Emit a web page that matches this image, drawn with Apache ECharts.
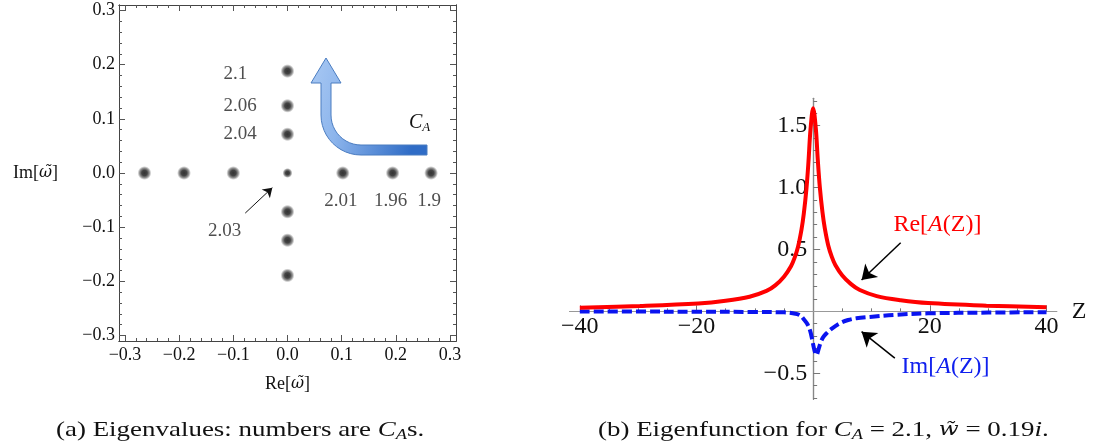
<!DOCTYPE html>
<html>
<head>
<meta charset="utf-8">
<script src="https://cdn.jsdelivr.net/npm/echarts@6/dist/echarts.min.js"></script>
<style>
html, body { margin: 0; padding: 0; background: #fff; }
#main { width: 1096px; height: 448px; }
</style>
</head>
<body>
<div id="main"></div>
<script>
// (a) eigenvalues in the complex plane, and the C_A of each one
var eigRe = [-0.264, -0.191, -0.100, 0, 0.102, 0.194, 0.265, 0, 0, 0, 0, 0, 0];
var eigIm = [0, 0, 0, 0, 0, 0, 0, 0.188, 0.124, 0.0715, -0.0715, -0.124, -0.189];
var eigCA = ['', '', '', '2.03', '2.01', '1.96', '1.9', '2.1', '2.06', '2.04', '', '', ''];
var eigTicks = [-0.3, -0.2, -0.1, 0, 0.1, 0.2, 0.3];

// (b) eigenfunction A(Z)
var zRe = [-40, -29.7, -19.7, -15, -10.9, -8, -6.5, -5, -3.8, -3.2, -2.6, -2, -1.6, -1.15, -0.8, -0.45, 0, 0.45, 0.8, 1.15, 1.6, 2, 2.6, 3.2, 3.8, 5, 6.5, 8, 10.9, 15, 19.7, 29.7, 40];
var aRe = [0.03, 0.043, 0.063, 0.085, 0.118, 0.165, 0.21, 0.28, 0.365, 0.43, 0.52, 0.66, 0.79, 0.99, 1.21, 1.47, 1.64, 1.48, 1.22, 1.0, 0.8, 0.67, 0.53, 0.44, 0.375, 0.29, 0.22, 0.172, 0.123, 0.09, 0.067, 0.046, 0.033];
var zIm = [-40, -30, -20, -10, -5, -3.5, -2.3, -1.5, -0.9, -0.5, -0.2, 0.1, 0.35, 0.58, 0.9, 1.3, 1.7, 2.3, 3.2, 4.6, 6, 7.4, 9.7, 14, 19.7, 30, 40];
var aIm = [-0.002, -0.002, -0.003, -0.005, -0.008, -0.015, -0.03, -0.07, -0.11, -0.16, -0.22, -0.29, -0.335, -0.352, -0.31, -0.25, -0.21, -0.177, -0.14, -0.096, -0.07, -0.056, -0.045, -0.028, -0.016, -0.01, -0.007];
var zTicks = [-40, -20, 20, 40];
var aTicks = [-0.5, 0.5, 1.0, 1.5];

var serif = 'Liberation Serif';
var fmt = function (v, d) { return v.toFixed(d).replace('-', '\u2212'); };

function steps(a, b, step, skip) {
  var out = [];
  for (var k = Math.round(a / step); k <= Math.round(b / step); k++) {
    var v = +(k * step).toFixed(4);
    if (!skip || Math.abs(v / skip - Math.round(v / skip)) > 1e-6) out.push(v);
  }
  return out;
}

var myChart = echarts.init(document.getElementById('main'));

function axis(extra) {
  var base = {
    type: 'value',
    splitLine: { show: false },
    axisLine: { show: true, onZero: false, lineStyle: { color: '#444', width: 1 } },
    axisTick: { show: true, inside: true, length: 6, lineStyle: { color: '#555' } },
    axisLabel: { show: false }
  };
  for (var k in extra) {
    if (typeof extra[k] === 'object' && base[k] && !Array.isArray(extra[k])) {
      base[k] = Object.assign({}, base[k], extra[k]);
    } else {
      base[k] = extra[k];
    }
  }
  return base;
}

var tickFont = { fontFamily: serif, fontSize: 18, color: '#111' };
var bigFont = { fontFamily: serif, fontSize: 24, color: '#111' };
var omega = { fontFamily: 'DejaVu Serif', fontSize: 16, fontStyle: 'italic', color: '#111' };

var eigMinor = steps(-0.3, 0.3, 0.02, 0.1);
var zMinor = steps(-40, 40, 5, 20).filter(function (v) { return v !== 0; });
var aMinor = steps(-0.7, 1.7, 0.1, 0.5);

// right panel: axes cross at zero, so shift them from the grid edges
var g1 = { left: 569.6, top: 98.3, width: 487.1, height: 301 };
var zMin = -41.75, zMax = 41.75, aMin = -0.71, aMax = 1.72;
var xOff = -g1.height * (0 - aMin) / (aMax - aMin);
var yOff = -g1.width * (0 - zMin) / (zMax - zMin);

function caLabel(i) {
  var l = { show: true, formatter: eigCA[i], fontFamily: serif, fontSize: 19, color: '#222' };
  if (eigIm[i] > 0) {
    l.position = [-57, eigIm[i] > 0.15 ? 10 : 7];
    l.align = 'left';
    l.verticalAlign = 'middle';
  } else if (eigRe[i] > 0) {
    l.position = 'inside';
    l.offset = [-2, 28];
  } else {
    l.position = 'inside';
    l.offset = [-63, 58];
  }
  return l;
}

var eigData = eigRe.map(function (re, i) {
  var item = { value: [re, eigIm[i]] };
  if (re === 0 && eigIm[i] === 0) item.symbolSize = 10;
  if (eigCA[i]) item.label = caLabel(i);
  return item;
});

var dot = {
  type: 'radial', x: 0.5, y: 0.5, r: 0.5,
  colorStops: [
    { offset: 0, color: '#000' },
    { offset: 0.4, color: '#151515' },
    { offset: 0.72, color: 'rgba(40,40,40,0.6)' },
    { offset: 1, color: 'rgba(90,90,90,0)' }
  ]
};

var arrowFill = {
  type: 'linear', x: 0, y: 0, x2: 1, y2: 0.3,
  colorStops: [
    { offset: 0, color: '#a9c9f3' },
    { offset: 0.35, color: '#8db5ec' },
    { offset: 1, color: '#2f6cc6' }
  ]
};

// outline of the bent C_A arrow (pixels)
function bentArrow() {
  var pts = [[326, 58], [341, 83], [331, 83], [331, 115]];
  var n = 12, k, t;
  for (k = 1; k <= n; k++) {
    t = Math.PI - (Math.PI / 2) * k / n;
    pts.push([361 + 30 * Math.cos(t), 115 + 30 * Math.sin(t)]);
  }
  pts.push([427, 145], [427, 155], [361, 155]);
  for (k = 1; k <= n; k++) {
    t = Math.PI / 2 + (Math.PI / 2) * k / n;
    pts.push([361 + 40 * Math.cos(t), 115 + 40 * Math.sin(t)]);
  }
  pts.push([321, 83], [311, 83]);
  return pts;
}

var capRich = {
  i: { fontFamily: serif, fontSize: 22, fontStyle: 'italic', fill: '#111' },
  w: { fontFamily: 'DejaVu Serif', fontSize: 19, fontStyle: 'italic', fill: '#111' },
  s: { fontFamily: serif, fontSize: 15, fontStyle: 'italic', fill: '#111', padding: [10, 0, 0, 0] }
};

var option = {
  animation: false,
  grid: [
    { left: 119, top: 5, width: 337, height: 336, containLabel: false },
    { left: g1.left, top: g1.top, width: g1.width, height: g1.height, containLabel: false }
  ],
  xAxis: [
    axis({ gridIndex: 0, position: 'bottom', min: -0.311, max: 0.311,
      axisTick: { customValues: eigTicks },
      axisLabel: Object.assign({ show: true, customValues: eigTicks, margin: 5,
        formatter: function (v) { return fmt(v, 1); } }, tickFont),
      name: 'Re[{w|\u03C9\u0303}]', nameLocation: 'middle', nameGap: 34,
      nameTextStyle: Object.assign({ rich: { w: omega } }, tickFont) }),
    axis({ gridIndex: 0, position: 'top', min: -0.311, max: 0.311, axisTick: { customValues: eigTicks } }),
    axis({ gridIndex: 0, position: 'bottom', min: -0.311, max: 0.311, axisTick: { customValues: eigMinor, length: 3 } }),
    axis({ gridIndex: 0, position: 'top', min: -0.311, max: 0.311, axisTick: { customValues: eigMinor, length: 3 } }),
    axis({ gridIndex: 1, position: 'bottom', offset: xOff, min: zMin, max: zMax,
      axisLine: { lineStyle: { color: '#999', width: 1.2 } },
      axisTick: { customValues: zTicks, length: 6, lineStyle: { color: '#777' } },
      axisLabel: Object.assign({ show: true, customValues: zTicks, margin: 3,
        formatter: function (v) { return fmt(v, 0); } }, bigFont),
      name: 'Z', nameLocation: 'end', nameGap: 15,
      nameTextStyle: Object.assign({ verticalAlign: 'middle' }, bigFont) }),
    axis({ gridIndex: 1, position: 'bottom', offset: xOff, min: zMin, max: zMax,
      axisLine: { lineStyle: { color: '#999', width: 1.2 } },
      axisTick: { customValues: zMinor, length: 3, lineStyle: { color: '#777' } } })
  ],
  yAxis: [
    axis({ gridIndex: 0, position: 'left', min: -0.31, max: 0.31,
      axisTick: { customValues: eigTicks },
      axisLabel: Object.assign({ show: true, customValues: eigTicks, margin: 4,
        formatter: function (v) { return fmt(v, 1); } }, tickFont),
      name: 'Im[{w|\u03C9\u0303}]', nameLocation: 'middle', nameRotate: 0, nameGap: 61,
      nameTextStyle: Object.assign({ rich: { w: omega } }, tickFont) }),
    axis({ gridIndex: 0, position: 'right', min: -0.31, max: 0.31, axisTick: { customValues: eigTicks } }),
    axis({ gridIndex: 0, position: 'left', min: -0.31, max: 0.31, axisTick: { customValues: eigMinor, length: 3 } }),
    axis({ gridIndex: 0, position: 'right', min: -0.31, max: 0.31, axisTick: { customValues: eigMinor, length: 3 } }),
    axis({ gridIndex: 1, position: 'left', offset: yOff, min: aMin, max: aMax,
      axisLine: { lineStyle: { color: '#888', width: 1.2 } },
      axisTick: { customValues: aTicks, length: 7, lineStyle: { color: '#777' } },
      axisLabel: Object.assign({ show: true, customValues: aTicks, margin: 6,
        formatter: function (v) { return fmt(v, 1); } }, bigFont) }),
    axis({ gridIndex: 1, position: 'left', offset: yOff, min: aMin, max: aMax,
      axisLine: { lineStyle: { color: '#888', width: 1.2 } },
      axisTick: { customValues: aMinor, length: 4, lineStyle: { color: '#777' } } })
  ],
  series: [
    {
      name: 'Eigenvalues',
      type: 'scatter',
      xAxisIndex: 0,
      yAxisIndex: 0,
      symbolSize: 14,
      itemStyle: { color: dot },
      data: eigData,
      markLine: {
        silent: true,
        symbol: ['none', 'arrow'],
        symbolSize: 9,
        label: { show: false },
        lineStyle: { color: '#111', width: 1, type: 'solid' },
        data: [[{ coord: [-0.078, -0.074] }, { coord: [-0.028, -0.027] }]]
      }
    },
    {
      name: 'Im[A(Z)]',
      type: 'line',
      xAxisIndex: 4,
      yAxisIndex: 4,
      showSymbol: false,
      smooth: 0.35,
      lineStyle: { color: '#0a14f0', width: 4, type: [10, 4] },
      data: zIm.map(function (z, i) { return [z, aIm[i]]; }),
      markLine: {
        silent: true,
        symbol: ['none', 'arrow'],
        symbolSize: 14,
        label: { show: false },
        lineStyle: { color: '#000', width: 1.5, type: 'solid' },
        data: [[{ coord: [14.0, -0.378] }, { coord: [8.3, -0.164] }]]
      },
      markPoint: {
        silent: true,
        symbolSize: 0,
        label: { show: true, position: 'inside', formatter: 'Im[{i|A}(Z)]',
          fontFamily: serif, fontSize: 24, color: '#1020ee',
          rich: { i: { fontFamily: serif, fontSize: 24, fontStyle: 'italic', color: '#1020ee' } } },
        data: [{ coord: [22.7, -0.446] }]
      }
    },
    {
      name: 'Re[A(Z)]',
      type: 'line',
      xAxisIndex: 4,
      yAxisIndex: 4,
      showSymbol: false,
      smooth: 0.35,
      lineStyle: { color: '#ff0000', width: 4 },
      data: zRe.map(function (z, i) { return [z, aRe[i]]; }),
      markLine: {
        silent: true,
        symbol: ['none', 'arrow'],
        symbolSize: 14,
        label: { show: false },
        lineStyle: { color: '#000', width: 1.5, type: 'solid' },
        data: [[{ coord: [15.0, 0.554] }, { coord: [8.3, 0.253] }]]
      },
      markPoint: {
        silent: true,
        symbolSize: 0,
        label: { show: true, position: 'inside', formatter: 'Re[{i|A}(Z)]',
          fontFamily: serif, fontSize: 24, color: '#ff0000',
          rich: { i: { fontFamily: serif, fontSize: 24, fontStyle: 'italic', color: '#ff0000' } } },
        data: [{ coord: [21.3, 0.697] }]
      }
    }
  ],
  graphic: [
    {
      type: 'polygon',
      shape: { points: bentArrow() },
      style: { fill: arrowFill, stroke: '#4a7cc0', lineWidth: 1 }
    },
    {
      type: 'text', x: 409, y: 123,
      style: {
        text: '{c|C}{s|A}', fill: '#111', verticalAlign: 'middle',
        rich: {
          c: { fontFamily: serif, fontSize: 20, fontStyle: 'italic', fill: '#111' },
          s: { fontFamily: serif, fontSize: 13, fontStyle: 'italic', fill: '#111', padding: [10, 0, 0, 0] }
        }
      }
    },
    {
      type: 'text', x: 56, y: 430, scaleX: 1.225,
      style: {
        text: '(a) Eigenvalues: numbers are {i|C}{s|A}s.', fill: '#111', verticalAlign: 'middle',
        font: '22px "Liberation Serif"',
        rich: capRich
      }
    },
    {
      type: 'text', x: 598, y: 430, scaleX: 1.225,
      style: {
        text: '(b) Eigenfunction for {i|C}{s|A} = 2.1, {w|w\u0303} = 0.19{i|i}.', fill: '#111', verticalAlign: 'middle',
        font: '22px "Liberation Serif"',
        rich: capRich
      }
    }
  ]
};

myChart.setOption(option);
</script>
</body>
</html>
